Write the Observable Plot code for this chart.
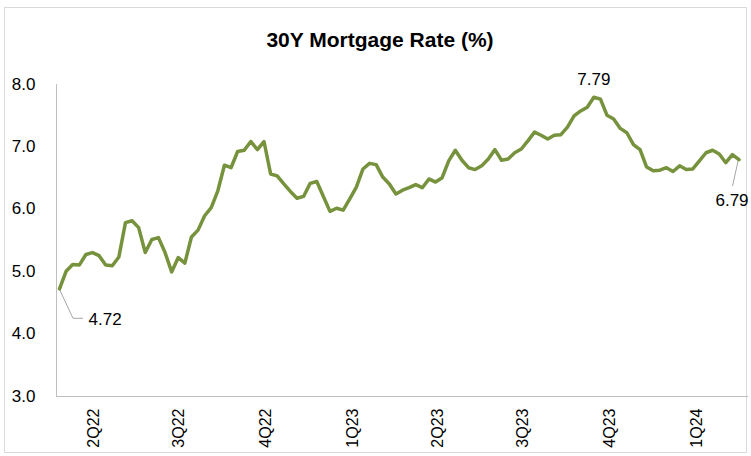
<!DOCTYPE html>
<html><head><meta charset="utf-8">
<script src="https://cdn.jsdelivr.net/npm/d3@7"></script>
<script src="https://cdn.jsdelivr.net/npm/@observablehq/plot@0.6"></script>
<style>
html,body{margin:0;padding:0;background:#fff;}
#wrap{position:relative;width:751px;height:456px;overflow:hidden;}
#border{position:absolute;left:4px;top:7px;width:743px;height:446px;border:1px solid #d9d9d9;box-sizing:border-box;pointer-events:none;}
</style></head><body><div id="wrap"><div id="border"></div></div>
<script>
const title = "30Y Mortgage Rate (%)";
const firstWeek = "2022-04-07";
const rates = [
  4.72, 5.00, 5.11, 5.10, 5.27, 5.30, 5.25, 5.10, 5.09, 5.23,
  5.78, 5.81, 5.70, 5.30, 5.51, 5.54, 5.30, 4.99, 5.22, 5.13,
  5.55, 5.66, 5.89, 6.02, 6.29, 6.70, 6.66, 6.92, 6.94, 7.08,
  6.95, 7.08, 6.56, 6.53, 6.40, 6.28, 6.17, 6.20, 6.41, 6.44,
  6.20, 5.96, 6.01, 5.98, 6.16, 6.35, 6.64, 6.73, 6.71, 6.51,
  6.40, 6.24, 6.30, 6.34, 6.39, 6.34, 6.48, 6.43, 6.50, 6.77,
  6.94, 6.78, 6.66, 6.63, 6.69, 6.80, 6.95, 6.78, 6.80, 6.90,
  6.96, 7.09, 7.23, 7.18, 7.12, 7.18, 7.19, 7.31, 7.49, 7.57,
  7.63, 7.79, 7.76, 7.50, 7.44, 7.29, 7.22, 7.03, 6.95, 6.67,
  6.61, 6.62, 6.66, 6.60, 6.69, 6.63, 6.64, 6.77, 6.90, 6.94,
  6.88, 6.74, 6.87, 6.79
];
const quarterLabels = ["2Q22", "3Q22", "4Q22", "1Q23", "2Q23", "3Q23", "4Q23", "1Q24"];
const yTicks = [3, 4, 5, 6, 7, 8];

const data = rates.map((v, i) => ({date: d3.utcDay.offset(new Date(firstWeek), 7 * i), rate: v}));
function quarterStart(lbl) {
  const q = +lbl[0], y = 2000 + +lbl.slice(2);
  return new Date(Date.UTC(y, (q - 1) * 3, 1));
}
const labelDates = quarterLabels.map(l => d3.utcDay.offset(quarterStart(l), 42));
const labelOf = new Map(labelDates.map((d, i) => [+d, quarterLabels[i]]));

const first = data[0], last = data[data.length - 1], peak = d3.greatest(data, d => d.rate);
const green = "#76923c";

function leaders(index, scales) {
  const g = d3.create("svg:g").attr("stroke", "#a6a6a6").attr("fill", "none").attr("stroke-width", 1);
  const x0 = scales.x(first.date), y0 = scales.y(first.rate);
  g.append("path").attr("d", `M${x0},${y0}L${x0 + 14},${y0 + 30}H${x0 + 24}`);
  const x1 = scales.x(last.date), y1 = scales.y(last.rate);
  g.append("path").attr("d", `M${x1},${y1}L${x1 - 6},${y1 + 27}`);
  return g.node();
}

const chart = Plot.plot({
  width: 751, height: 456,
  marginLeft: 56, marginRight: 4, marginTop: 84, marginBottom: 60,
  style: {fontFamily: "'Liberation Sans', Arial, sans-serif", background: "transparent", overflow: "visible", color: "#000"},
  x: {type: "utc", range: [59, 738.5]},
  y: {domain: [3, 8], range: [395.6, 83.6]},
  marks: [
    Plot.frame({anchor: "left", stroke: "#bfbfbf"}),
    Plot.frame({anchor: "bottom", stroke: "#bfbfbf"}),
    Plot.axisY({ticks: yTicks, tickFormat: d => d.toFixed(1), tickSize: 0, tickPadding: 21, fontSize: 17, label: null}),
    Plot.axisX({ticks: labelDates, tickFormat: d => labelOf.get(+d), tickRotate: -90, tickSize: 0, tickPadding: 12, fontSize: 16, label: null}),
    leaders,
    Plot.line(data, {x: "date", y: "rate", stroke: green, strokeWidth: 3.5, strokeLinejoin: "round", strokeLinecap: "round"}),
    Plot.text([first], {x: "date", y: "rate", text: d => d.rate.toFixed(2), dx: 29, dy: 31, textAnchor: "start", fontSize: 17}),
    Plot.text([peak], {x: "date", y: "rate", text: d => d.rate.toFixed(2), dy: -18, textAnchor: "middle", fontSize: 17}),
    Plot.text([last], {x: "date", y: "rate", text: d => d.rate.toFixed(2), dx: -7, dy: 41, textAnchor: "middle", fontSize: 17}),
    Plot.text([title], {frameAnchor: "top", dx: -22, dy: -44, lineAnchor: "middle", fontWeight: "bold", fontSize: 21})
  ]
});
document.getElementById("wrap").appendChild(chart);
chart.style.position = "absolute";
chart.style.left = "0";
chart.style.top = "0";
</script>
</body></html>
